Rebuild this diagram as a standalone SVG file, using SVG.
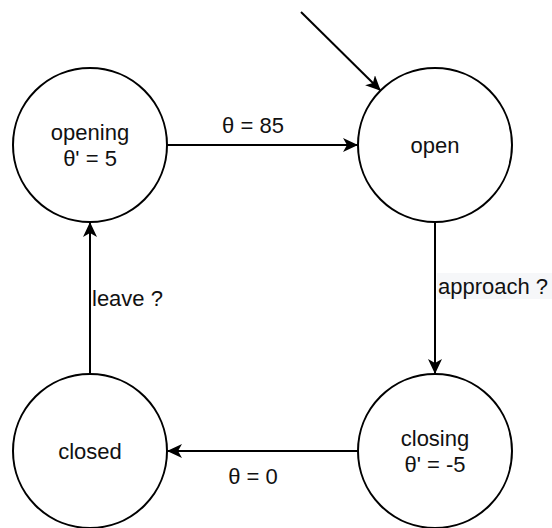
<svg xmlns="http://www.w3.org/2000/svg" width="552" height="528" viewBox="0 0 552 528">
<style>
.node circle{fill:#ffffff;stroke:#000000;stroke-width:2}
.lbl{font-family:"Liberation Sans",Arial,sans-serif;font-size:22px;fill:#111111}
.edge{stroke:#000000;stroke-width:2;fill:none;marker-end:url(#arr)}
</style>
<defs>
<marker id="arr" viewBox="0 0 15 14" refX="14" refY="7" markerWidth="15" markerHeight="14" markerUnits="userSpaceOnUse" orient="auto">
<path d="M0,0 L15,7 L0,14 L4,7 Z" fill="#000000"/>
</marker>
</defs>
<rect width="552" height="528" fill="#ffffff"/>
<g id="connectors">
<line class="edge" x1="301" y1="12" x2="380" y2="90"/>
<line class="edge" x1="167" y1="145" x2="357" y2="145"/>
<line class="edge" x1="435" y1="222" x2="435" y2="373"/>
<line class="edge" x1="358" y1="451" x2="168" y2="451"/>
<line class="edge" x1="90" y1="375" x2="90" y2="223"/>
<text class="lbl" x="253" y="133" text-anchor="middle">θ = 85</text>
<rect x="437" y="273" width="115" height="26" fill="#f6f7f9"/>
<text class="lbl" x="438" y="294">approach ?</text>
<text class="lbl" x="253" y="484" text-anchor="middle">θ = 0</text>
<text class="lbl" x="92" y="306">leave ?</text>
</g>
<g id="opening" class="node">
<circle cx="90" cy="145" r="77"/>
<text class="lbl" x="90" y="140" text-anchor="middle">opening</text>
<text class="lbl" x="90" y="166" text-anchor="middle">θ' = 5</text>
</g>
<g id="open" class="node">
<circle cx="435" cy="145" r="77"/>
<text class="lbl" x="435" y="153" text-anchor="middle">open</text>
</g>
<g id="closing" class="node">
<circle cx="435" cy="451" r="77"/>
<text class="lbl" x="435" y="446" text-anchor="middle">closing</text>
<text class="lbl" x="435" y="472" text-anchor="middle">θ' = -5</text>
</g>
<g id="closed" class="node">
<circle cx="90" cy="451" r="77"/>
<text class="lbl" x="90" y="459" text-anchor="middle">closed</text>
</g>
</svg>
